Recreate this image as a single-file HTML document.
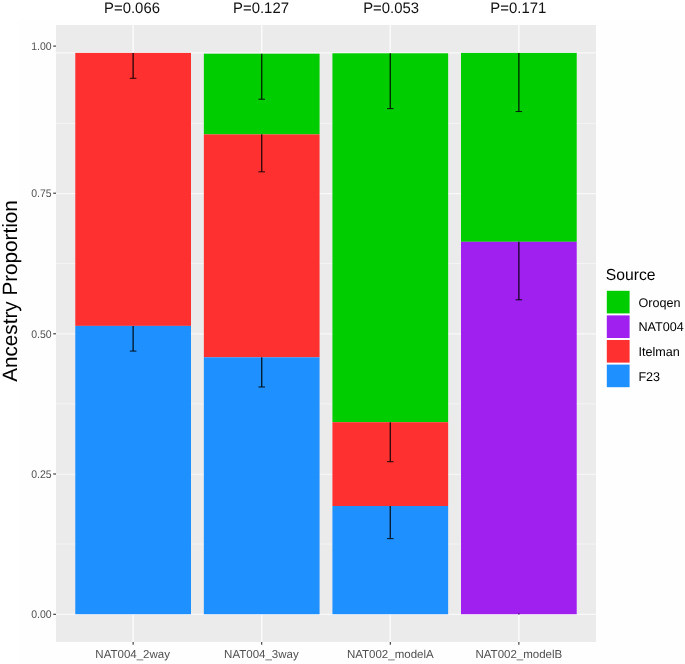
<!DOCTYPE html>
<html><head><meta charset="utf-8"><title>Ancestry Proportion</title>
<style>html,body{margin:0;padding:0;background:#fff}body{width:685px;height:664px;overflow:hidden}svg{display:block;will-change:transform}text{font-family:"Liberation Sans",sans-serif;text-rendering:geometricPrecision}</style></head><body>
<svg width="685" height="664" viewBox="0 0 685 664">
<rect x="0" y="0" width="685" height="664" fill="#ffffff"/>
<rect x="19" y="19" width="666" height="645" fill="#fefefe"/>
<rect x="56.0" y="25.0" width="540.0" height="617.0" fill="#EBEBEB"/>
<line x1="56.0" x2="596.0" y1="544.08" y2="544.08" stroke="#fff" stroke-opacity="0.55" stroke-width="0.9"/>
<line x1="56.0" x2="596.0" y1="403.83" y2="403.83" stroke="#fff" stroke-opacity="0.55" stroke-width="0.9"/>
<line x1="56.0" x2="596.0" y1="263.58" y2="263.58" stroke="#fff" stroke-opacity="0.55" stroke-width="0.9"/>
<line x1="56.0" x2="596.0" y1="123.33" y2="123.33" stroke="#fff" stroke-opacity="0.55" stroke-width="0.9"/>
<line x1="56.0" x2="596.0" y1="614.40" y2="614.40" stroke="#fff" stroke-opacity="0.7" stroke-width="1.1"/>
<line x1="56.0" x2="596.0" y1="474.20" y2="474.20" stroke="#fff" stroke-opacity="0.7" stroke-width="1.1"/>
<line x1="56.0" x2="596.0" y1="333.90" y2="333.90" stroke="#fff" stroke-opacity="0.7" stroke-width="1.1"/>
<line x1="56.0" x2="596.0" y1="193.60" y2="193.60" stroke="#fff" stroke-opacity="0.7" stroke-width="1.1"/>
<line x1="56.0" x2="596.0" y1="52.90" y2="52.90" stroke="#fff" stroke-opacity="0.7" stroke-width="1.1"/>
<line x1="133.14" x2="133.14" y1="25.0" y2="642.0" stroke="#fff" stroke-opacity="0.8" stroke-width="1.5"/>
<line x1="261.71" x2="261.71" y1="25.0" y2="642.0" stroke="#fff" stroke-opacity="0.8" stroke-width="1.5"/>
<line x1="390.29" x2="390.29" y1="25.0" y2="642.0" stroke="#fff" stroke-opacity="0.8" stroke-width="1.5"/>
<line x1="518.86" x2="518.86" y1="25.0" y2="642.0" stroke="#fff" stroke-opacity="0.8" stroke-width="1.5"/>
<rect x="75.29" y="52.90" width="115.71" height="273.00" fill="#FF3030"/>
<rect x="75.29" y="325.90" width="115.71" height="288.30" fill="#1E90FF"/>
<rect x="203.86" y="53.70" width="115.71" height="80.70" fill="#00CD00"/>
<rect x="203.86" y="134.40" width="115.71" height="222.90" fill="#FF3030"/>
<rect x="203.86" y="357.30" width="115.71" height="256.90" fill="#1E90FF"/>
<rect x="332.43" y="53.30" width="115.71" height="368.90" fill="#00CD00"/>
<rect x="332.43" y="422.20" width="115.71" height="83.80" fill="#FF3030"/>
<rect x="332.43" y="506.00" width="115.71" height="108.20" fill="#1E90FF"/>
<rect x="461.00" y="52.90" width="115.71" height="188.90" fill="#00CD00"/>
<rect x="461.00" y="241.80" width="115.71" height="372.40" fill="#A020F0"/>
<line x1="133.14" x2="133.14" y1="53.00" y2="78.30" stroke="#000" stroke-opacity="0.8" stroke-width="1.4"/>
<line x1="129.84" x2="136.44" y1="78.30" y2="78.30" stroke="#000" stroke-opacity="0.8" stroke-width="1.1"/>
<line x1="133.14" x2="133.14" y1="325.90" y2="351.10" stroke="#000" stroke-opacity="0.8" stroke-width="1.4"/>
<line x1="129.84" x2="136.44" y1="351.10" y2="351.10" stroke="#000" stroke-opacity="0.8" stroke-width="1.1"/>
<line x1="261.71" x2="261.71" y1="53.70" y2="99.20" stroke="#000" stroke-opacity="0.8" stroke-width="1.4"/>
<line x1="258.41" x2="265.01" y1="99.20" y2="99.20" stroke="#000" stroke-opacity="0.8" stroke-width="1.1"/>
<line x1="261.71" x2="261.71" y1="134.20" y2="171.80" stroke="#000" stroke-opacity="0.8" stroke-width="1.4"/>
<line x1="258.41" x2="265.01" y1="171.80" y2="171.80" stroke="#000" stroke-opacity="0.8" stroke-width="1.1"/>
<line x1="261.71" x2="261.71" y1="357.30" y2="387.00" stroke="#000" stroke-opacity="0.8" stroke-width="1.4"/>
<line x1="258.41" x2="265.01" y1="387.00" y2="387.00" stroke="#000" stroke-opacity="0.8" stroke-width="1.1"/>
<line x1="390.29" x2="390.29" y1="53.30" y2="108.60" stroke="#000" stroke-opacity="0.8" stroke-width="1.4"/>
<line x1="386.99" x2="393.59" y1="108.60" y2="108.60" stroke="#000" stroke-opacity="0.8" stroke-width="1.1"/>
<line x1="390.29" x2="390.29" y1="422.20" y2="461.70" stroke="#000" stroke-opacity="0.8" stroke-width="1.4"/>
<line x1="386.99" x2="393.59" y1="461.70" y2="461.70" stroke="#000" stroke-opacity="0.8" stroke-width="1.1"/>
<line x1="390.29" x2="390.29" y1="506.00" y2="538.60" stroke="#000" stroke-opacity="0.8" stroke-width="1.4"/>
<line x1="386.99" x2="393.59" y1="538.60" y2="538.60" stroke="#000" stroke-opacity="0.8" stroke-width="1.1"/>
<line x1="518.86" x2="518.86" y1="53.00" y2="111.50" stroke="#000" stroke-opacity="0.8" stroke-width="1.4"/>
<line x1="515.56" x2="522.16" y1="111.50" y2="111.50" stroke="#000" stroke-opacity="0.8" stroke-width="1.1"/>
<line x1="518.86" x2="518.86" y1="241.80" y2="299.80" stroke="#000" stroke-opacity="0.8" stroke-width="1.4"/>
<line x1="515.56" x2="522.16" y1="299.80" y2="299.80" stroke="#000" stroke-opacity="0.8" stroke-width="1.1"/>
<line x1="518.86" x2="518.86" y1="613.60" y2="614.60" stroke="#000" stroke-opacity="0.8" stroke-width="1.4"/>
<line x1="53.2" x2="56" y1="614.30" y2="614.30" stroke="#333" stroke-width="1.1"/>
<text transform="translate(51.7,618.10) scale(0.945,1)" font-size="11.1" fill="#505050" text-anchor="end">0.00</text>
<line x1="53.2" x2="56" y1="474.00" y2="474.00" stroke="#333" stroke-width="1.1"/>
<text transform="translate(51.7,477.80) scale(0.945,1)" font-size="11.1" fill="#505050" text-anchor="end">0.25</text>
<line x1="53.2" x2="56" y1="333.80" y2="333.80" stroke="#333" stroke-width="1.1"/>
<text transform="translate(51.7,337.60) scale(0.945,1)" font-size="11.1" fill="#505050" text-anchor="end">0.50</text>
<line x1="53.2" x2="56" y1="193.20" y2="193.20" stroke="#333" stroke-width="1.1"/>
<text transform="translate(51.7,197.00) scale(0.945,1)" font-size="11.1" fill="#505050" text-anchor="end">0.75</text>
<line x1="53.2" x2="56" y1="46.10" y2="46.10" stroke="#333" stroke-width="1.1"/>
<text transform="translate(51.7,49.90) scale(0.945,1)" font-size="11.1" fill="#505050" text-anchor="end">1.00</text>
<line x1="133.14" x2="133.14" y1="642" y2="644.8" stroke="#333" stroke-width="1.1"/>
<text x="132.64" y="658.4" font-size="11.5" fill="#505050" text-anchor="middle">NAT004_2way</text>
<line x1="261.71" x2="261.71" y1="642" y2="644.8" stroke="#333" stroke-width="1.1"/>
<text x="261.41" y="658.4" font-size="11.5" fill="#505050" text-anchor="middle">NAT004_3way</text>
<line x1="390.29" x2="390.29" y1="642" y2="644.8" stroke="#333" stroke-width="1.1"/>
<text x="390.29" y="658.4" font-size="11.5" fill="#505050" text-anchor="middle">NAT002_modelA</text>
<line x1="518.86" x2="518.86" y1="642" y2="644.8" stroke="#333" stroke-width="1.1"/>
<text x="518.86" y="658.4" font-size="11.5" fill="#505050" text-anchor="middle">NAT002_modelB</text>
<text transform="translate(132.00,12.5) scale(0.98,1)" font-size="15.2" fill="#111" text-anchor="middle">P=0.066</text>
<text transform="translate(261.00,12.5) scale(0.98,1)" font-size="15.2" fill="#111" text-anchor="middle">P=0.127</text>
<text transform="translate(391.10,12.5) scale(0.98,1)" font-size="15.2" fill="#111" text-anchor="middle">P=0.053</text>
<text transform="translate(518.30,12.5) scale(0.98,1)" font-size="15.2" fill="#111" text-anchor="middle">P=0.171</text>
<text transform="translate(16.6,291.0) rotate(-90)" font-size="20.7" fill="#000" text-anchor="middle">Ancestry Proportion</text>
<text transform="translate(605.8,279.85) scale(0.98,1)" font-size="16" fill="#000">Source</text>
<rect x="606.8" y="290.80" width="22.8" height="22.6" fill="#00CD00"/>
<text x="638.4" y="306.80" font-size="12.6" fill="#000">Oroqen</text>
<rect x="606.8" y="315.40" width="22.8" height="22.6" fill="#A020F0"/>
<text x="638.4" y="331.40" font-size="12.6" fill="#000">NAT004</text>
<rect x="606.8" y="340.00" width="22.8" height="22.6" fill="#FF3030"/>
<text x="638.4" y="356.00" font-size="12.6" fill="#000">Itelman</text>
<rect x="606.8" y="364.60" width="22.8" height="22.6" fill="#1E90FF"/>
<text x="638.4" y="380.60" font-size="12.6" fill="#000">F23</text>
</svg></body></html>
